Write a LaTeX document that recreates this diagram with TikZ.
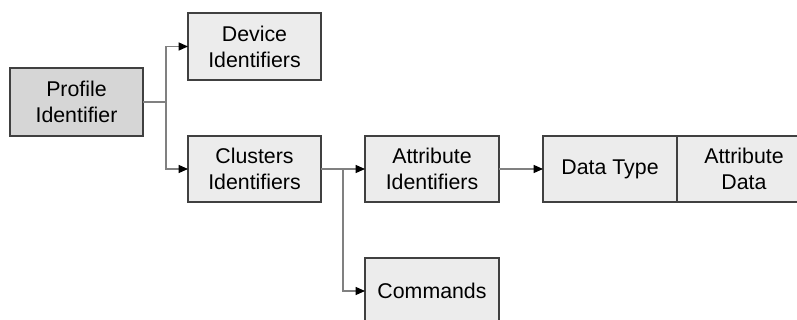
\documentclass[tikz,border=0pt]{standalone}
\usepackage{fontspec}
\setmainfont{Liberation Sans}
\usetikzlibrary{arrows.meta}
\definecolor{boxfill}{HTML}{ECECEC}
\definecolor{rootfill}{HTML}{D6D6D6}
\definecolor{boxline}{HTML}{404040}
\definecolor{wire}{HTML}{808080}
\tikzset{
  blk/.style={draw=boxline, line width=0.9pt, fill=boxfill, align=center,
    font=\fontsize{16}{19.5}\selectfont, inner sep=0pt, outer sep=0pt},
  wirearrow/.style={draw=wire, line width=0.9pt,
    -{Triangle[length=7pt,width=6pt,fill=black,color=black]}},
  wireline/.style={draw=wire, line width=0.9pt},
}
\begin{document}
\begin{tikzpicture}[x=0.75pt,y=-0.75pt]
\useasboundingbox (0,0) rectangle (797,320);
\clip (0,0) rectangle (797,320);
% boxes (positions in pixel units)
\node[blk, fill=rootfill, minimum width=133*0.75pt, minimum height=68*0.75pt] (prof) at (76.5,102) {Profile\\Identifier};
\node[blk, minimum width=133*0.75pt, minimum height=67*0.75pt] (dev) at (254.5,46.5) {Device\\Identifiers};
\node[blk, minimum width=133*0.75pt, minimum height=66*0.75pt] (clu) at (254.5,169) {Clusters\\Identifiers};
\node[blk, minimum width=134*0.75pt, minimum height=66*0.75pt] (attr) at (432,169) {Attribute\\Identifiers};
\node[blk, minimum width=134*0.75pt, minimum height=66*0.75pt] (dtype) at (610,169) {Data Type};
\node[blk, minimum width=134*0.75pt, minimum height=66*0.75pt, anchor=west] (adata) at (dtype.east) {Attribute\\Data};
\node[blk, minimum width=134*0.75pt, minimum height=66*0.75pt] (cmd) at (432,291) {Commands};
% junction points
\coordinate (j1) at (166,102);
\coordinate (j2) at (343,169);
% connectors
\draw[wireline] (prof.east) -- (j1);
\draw[wirearrow] (j1) |- (dev.west);
\draw[wirearrow] (j1) |- (clu.west);
\draw[wirearrow] (clu.east) -- (attr.west);
\draw[wirearrow] (j2) |- (cmd.west);
\draw[wirearrow] (attr.east) -- (dtype.west);
\end{tikzpicture}
\end{document}
